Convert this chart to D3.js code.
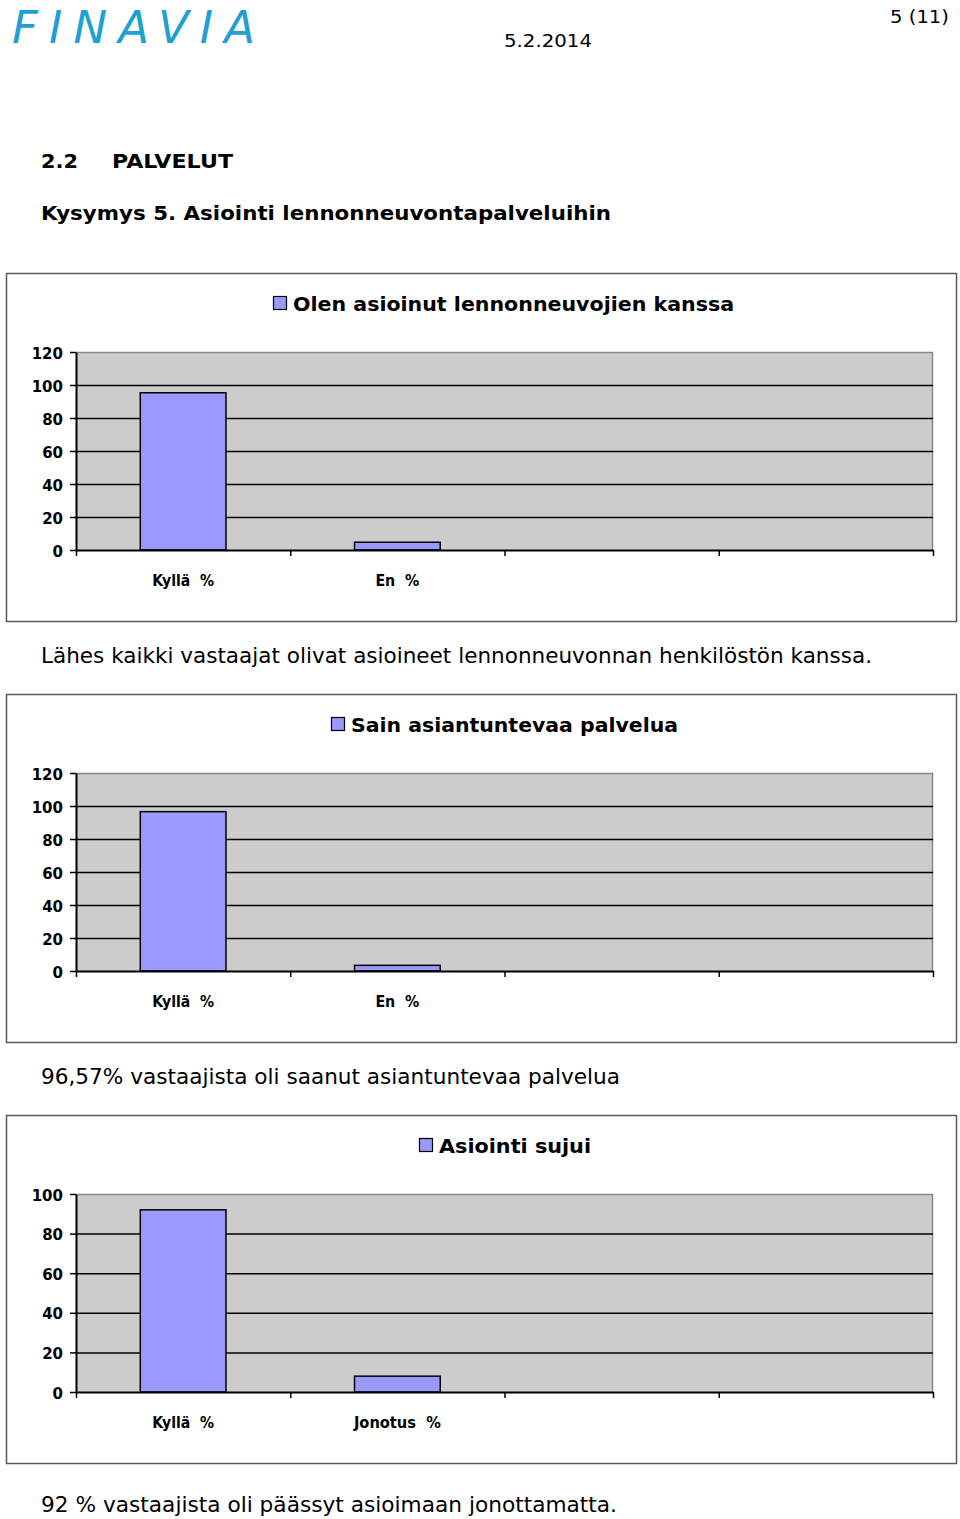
<!DOCTYPE html>
<html>
<head>
<meta charset="utf-8">
<script src="https://cdn.jsdelivr.net/npm/d3@7"></script>
<style>
  html, body { margin: 0; padding: 0; background: #fff; }
  svg { display: block; }
  text { font-family: "DejaVu Sans", Verdana, sans-serif; fill: #000; }
</style>
</head>
<body>
<svg id="page" width="960" height="1519"></svg>
<script>
// ---------- data ----------
const chart1Title = "Olen asioinut lennonneuvojien kanssa";
const chart1Categories = ["Kyllä  %", "En  %"];
const chart1Values = [95.3, 4.7];
const chart1Ticks = [0, 20, 40, 60, 80, 100, 120];
const chart1Caption = "Lähes kaikki vastaajat olivat asioineet lennonneuvonnan henkilöstön kanssa.";

const chart2Title = "Sain asiantuntevaa palvelua";
const chart2Categories = ["Kyllä  %", "En  %"];
const chart2Values = [96.57, 3.43];
const chart2Ticks = [0, 20, 40, 60, 80, 100, 120];
const chart2Caption = "96,57% vastaajista oli saanut asiantuntevaa palvelua";

const chart3Title = "Asiointi sujui";
const chart3Categories = ["Kyllä  %", "Jonotus  %"];
const chart3Values = [92, 8];
const chart3Ticks = [0, 20, 40, 60, 80, 100];
const chart3Caption = "92 % vastaajista oli päässyt asioimaan jonottamatta.";

const headerLogo = "FINAVIA";
const headerDate = "5.2.2014";
const headerPage = "5 (11)";
const sectionNumber = "2.2";
const sectionTitle = "PALVELUT";
const questionTitle = "Kysymys 5. Asiointi lennonneuvontapalveluihin";

// ---------- page ----------
const svg = d3.select("#page");

svg.append("text").attr("x", 12).attr("y", 43)
  .attr("textLength", 243).attr("lengthAdjust", "spacing")
  .style("font-family", "'DejaVu Sans', sans-serif")
  .style("font-style", "italic").style("font-weight", 400)
  .style("font-size", "45px").style("fill", "#1f9fd2")
  .text(headerLogo);

svg.append("text").attr("x", 949).attr("y", 23).attr("text-anchor", "end")
  .attr("textLength", 59).attr("lengthAdjust", "spacingAndGlyphs")
  .style("font-size", "18px").text(headerPage);
svg.append("text").attr("x", 504).attr("y", 47)
  .attr("textLength", 88).attr("lengthAdjust", "spacingAndGlyphs")
  .style("font-size", "18px").text(headerDate);

svg.append("text").attr("x", 41).attr("y", 168)
  .attr("textLength", 37).attr("lengthAdjust", "spacingAndGlyphs")
  .style("font-size", "20px").style("font-weight", "bold").text(sectionNumber);
svg.append("text").attr("x", 112).attr("y", 168)
  .attr("textLength", 121).attr("lengthAdjust", "spacingAndGlyphs")
  .style("font-size", "20px").style("font-weight", "bold").text(sectionTitle);
svg.append("text").attr("x", 41).attr("y", 220)
  .attr("textLength", 570).attr("lengthAdjust", "spacingAndGlyphs")
  .style("font-size", "20px").style("font-weight", "bold").text(questionTitle);

// ---------- chart drawer ----------
function drawChart(opts) {
  const { top, title, categories, values, ticks, caption, captionY,
          legendX, legendTextLen, labelLens, captionLen } = opts;
  const g = svg.append("g").attr("transform", `translate(0,${top})`);

  // outer frame
  g.append("rect").attr("x", 6.5).attr("y", 0.5).attr("width", 950).attr("height", 348)
    .attr("fill", "#fff").attr("stroke", "#5a5a5a").attr("stroke-width", 1.5);

  // legend / title
  g.append("rect").attr("x", legendX + 0.5).attr("y", 23.5).attr("width", 13).attr("height", 13)
    .attr("fill", "#9999ff").attr("stroke", "#000").attr("stroke-width", 1.2);
  g.append("text").attr("x", legendX + 20).attr("y", 38)
    .attr("textLength", legendTextLen).attr("lengthAdjust", "spacingAndGlyphs")
    .style("font-size", "20px").style("font-weight", "bold").text(title);

  const plotLeft = 76, plotRight = 933, plotTop = 79, plotBottom = 277;
  const maxV = d3.max(ticks);
  const y = d3.scaleLinear().domain([0, maxV]).range([plotBottom, plotTop]);
  const slots = [...categories, "·slot3", "·slot4"];
  const x = d3.scaleBand().domain(slots).range([plotLeft, plotRight])
    .paddingInner(0.6).paddingOuter(0.3);
  const xEdge = d3.scaleLinear().domain([0, slots.length]).range([plotLeft, plotRight]);

  // plot background
  g.append("rect").attr("x", plotLeft).attr("y", plotTop)
    .attr("width", plotRight - plotLeft).attr("height", plotBottom - plotTop)
    .attr("fill", "#cccccc");
  // top/right grey border
  g.append("path")
    .attr("d", `M${plotLeft},${plotTop + 0.5}H${plotRight - 0.5}V${plotBottom}`)
    .attr("fill", "none").attr("stroke", "#888").attr("stroke-width", 1.5);

  // gridlines
  g.append("g").attr("transform", `translate(${plotLeft},0)`)
    .call(d3.axisLeft(y).tickValues(ticks.filter(t => t > 0 && t < maxV))
      .tickSize(-(plotRight - plotLeft)).tickFormat(""))
    .call(s => s.select(".domain").remove())
    .call(s => s.selectAll("line").attr("stroke", "#000").attr("stroke-width", 1.5));

  // bars
  g.selectAll("rect.bar").data(values).join("rect").attr("class", "bar")
    .attr("x", (d, i) => x(categories[i]))
    .attr("width", x.bandwidth())
    .attr("y", d => y(d))
    .attr("height", d => y(0) - y(d))
    .attr("fill", "#9999ff").attr("stroke", "#000").attr("stroke-width", 1.5);

  // y axis
  const ya = g.append("g").attr("transform", `translate(${plotLeft},0)`)
    .call(d3.axisLeft(y).tickValues(ticks).tickSize(6).tickPadding(7).tickSizeOuter(0));
  ya.select(".domain").attr("stroke", "#000").attr("stroke-width", 2);
  ya.selectAll(".tick line").attr("stroke", "#000").attr("stroke-width", 1.5);
  ya.selectAll(".tick text")
    .style("font-family", "'DejaVu Sans', Verdana, sans-serif")
    .style("font-size", "15px").style("font-weight", "bold").attr("fill", "#000")
    .attr("dy", "0.4em");

  // x axis
  const xa = g.append("g").attr("transform", `translate(0,${plotBottom})`)
    .call(d3.axisBottom(xEdge).tickValues(d3.range(slots.length + 1))
      .tickSize(6).tickSizeOuter(0).tickFormat(""));
  xa.select(".domain").attr("stroke", "#000").attr("stroke-width", 2);
  xa.selectAll(".tick line").attr("stroke", "#000").attr("stroke-width", 1.5);

  // category labels
  g.selectAll("text.cat").data(categories).join("text").attr("class", "cat")
    .attr("x", d => x(d) + x.bandwidth() / 2).attr("y", 313)
    .attr("text-anchor", "middle")
    .attr("textLength", (d, i) => labelLens[i]).attr("lengthAdjust", "spacingAndGlyphs")
    .style("font-size", "15px").style("font-weight", "bold")
    .style("white-space", "pre").attr("xml:space", "preserve")
    .text(d => d);

  // caption
  svg.append("text").attr("x", 41).attr("y", captionY)
    .attr("textLength", captionLen).attr("lengthAdjust", "spacingAndGlyphs")
    .style("font-size", "21.5px").text(caption);
}

drawChart({ top: 273, title: chart1Title, categories: chart1Categories, values: chart1Values,
  ticks: chart1Ticks, caption: chart1Caption, captionY: 663, legendX: 273, legendTextLen: 441,
  labelLens: [62, 44], captionLen: 831 });
drawChart({ top: 694, title: chart2Title, categories: chart2Categories, values: chart2Values,
  ticks: chart2Ticks, caption: chart2Caption, captionY: 1084, legendX: 331, legendTextLen: 327,
  labelLens: [62, 44], captionLen: 579 });
drawChart({ top: 1115, title: chart3Title, categories: chart3Categories, values: chart3Values,
  ticks: chart3Ticks, caption: chart3Caption, captionY: 1512, legendX: 419, legendTextLen: 152,
  labelLens: [62, 87], captionLen: 576 });
</script>
</body>
</html>
